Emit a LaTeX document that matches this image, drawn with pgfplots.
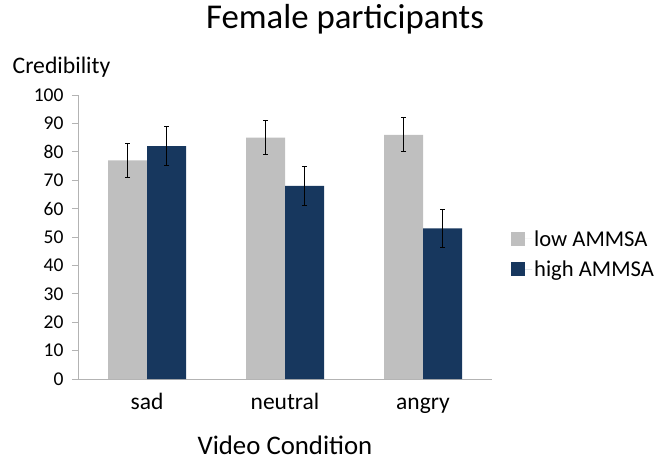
\documentclass[border=0pt]{standalone}
\usepackage{pgfplots}
\pgfplotsset{compat=1.18}
\usepackage{fontspec}
\setmainfont{Carlito}
\definecolor{lowc}{HTML}{BFBFBF}
\definecolor{highc}{HTML}{17375E}
\definecolor{axc}{HTML}{B3B3B3}
\begin{document}
\begin{tikzpicture}[x=1pt,y=1pt]
\path[use as bounding box] (0,0) rectangle (663,461);
\begin{axis}[
  at={(78pt,82pt)}, anchor=south west,
  scale only axis, width=414pt, height=284pt,
  xmin=-0.5, xmax=2.5, ymin=0, ymax=100,
  axis x line*=bottom, axis y line*=left,
  axis line style={draw=axc, line width=0.9pt},
  ytick={0,10,...,100},
  xtick={0,1,2}, xticklabels={sad,neutral,angry},
  extra x ticks={-0.5,0.5,1.5,2.5}, extra x tick labels={},
  extra x tick style={major tick length=7pt, tick style={draw=axc, line width=0.9pt}},
  x tick style={draw=none},
  y tick style={draw=axc, line width=0.9pt},
  tick align=outside, major tick length=6pt,
  /pgf/number format/assume math mode=true,
  yticklabel style={font=\fontsize{19.5}{22}\selectfont, xshift=-5pt},
  xticklabel style={font=\fontsize{23.5}{26}\selectfont, anchor=base, yshift=-24pt},
  ybar=0pt, bar width=39pt,
  legend style={at={(rel axis cs:1,0.44)}, anchor=west, xshift=19pt, draw=none, fill=none,
    font=\fontsize{22.6}{26}\selectfont, row sep=9pt, inner sep=0pt},
  legend cell align=left,
  legend image code/.code={\path[#1,draw=none] (0pt,-7pt) rectangle (14pt,7pt);\path (0pt,0pt) -- (21pt,0pt);},
  error bars/y dir=both, error bars/y explicit,
  error bars/error bar style={black, line width=0.8pt},
  error bars/error mark options={rotate=90, black, mark size=2.5pt, line width=0.8pt},
]
\addplot[fill=lowc, draw=none] coordinates {(0,77) +- (0,6) (1,85) +- (0,6) (2,86) +- (0,6)};
\addplot[fill=highc, draw=none] coordinates {(0,82) +- (0,6.8) (1,68) +- (0,6.8) (2,53) +- (0,6.8)};
\legend{low AMMSA, high AMMSA}
\end{axis}
\node[anchor=base, font=\fontsize{34.8}{40}\selectfont] at (345,432) {Female participants};
\node[anchor=base, font=\fontsize{26.8}{30}\selectfont] at (285,7) {Video Condition};
\node[anchor=base, font=\fontsize{23.7}{27}\selectfont] at (61.5,387) {Credibility};
\end{tikzpicture}
\end{document}
